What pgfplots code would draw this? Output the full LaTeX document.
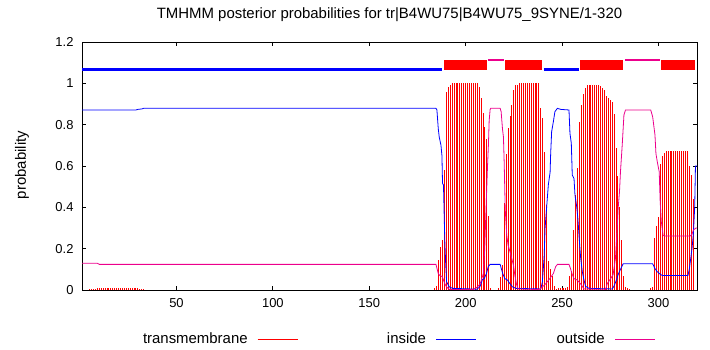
\documentclass[border=0pt]{standalone}
\usepackage{fontspec}
\setmainfont{Liberation Sans}
\usepackage{pgfplots}
\pgfplotsset{compat=1.18}
\pgfplotsset{mylegend/.style={legend image code/.code={\path (0bp,0bp) (74bp,0bp); \draw[##1, line width=0.8bp] (10bp,0bp) -- (50bp,0bp);}}}
\begin{document}
\begin{tikzpicture}
\begin{axis}[
 width=615bp, height=248bp, scale only axis,
 xmin=1, xmax=320, ymin=0, ymax=1.2,
 xtick={50,100,150,200,250,300},
 ytick={0,0.2,0.4,0.6,0.8,1,1.2},
 tick align=inside,
 major tick length=4bp,
 axis line style={line width=0.8bp},
 every tick/.style={black, line width=0.8bp},
 /pgf/number format/assume math mode=true,
 ticklabel style={font=\fontsize{13}{15}\selectfont},
 xticklabel style={yshift=-5bp},
 yticklabel style={xshift=-5bp},
 title={TMHMM posterior probabilities for tr|B4WU75|B4WU75\_9SYNE/1-320},
 title style={font=\fontsize{15}{18}\selectfont, at={(axis description cs:0.5,1)}, anchor=base, yshift=18bp},
 ylabel={probability},
 ylabel style={font=\fontsize{15}{18}\selectfont, at={(axis description cs:-0.0976,0.504)}, anchor=center},
 legend columns=3,
 legend plot pos=right,
 legend cell align=left,
 legend style={draw=none, fill=none, inner sep=0pt, outer sep=0pt,
   at={(axis description cs:0.0992,-0.1976)}, anchor=west,
   font=\fontsize{15}{18}\selectfont,
   nodes={text width=104bp, align=right, inner xsep=0pt}},
]
% topology
\addplot[blue, line width=3bp, forget plot] coordinates {(1,1.067) (187.9,1.067)};
\addplot[blue, line width=3bp, forget plot] coordinates {(240.6,1.067) (258.8,1.067)};
\addplot[magenta, line width=2bp, forget plot] coordinates {(211.7,1.112) (220,1.112)};
\addplot[magenta, line width=2bp, forget plot] coordinates {(282.6,1.112) (300.7,1.112)};
\addplot[red, line width=9.5bp, forget plot] coordinates {(188.9,1.0895) (211.2,1.0895)};
\addplot[red, line width=9.5bp, forget plot] coordinates {(220.5,1.0895) (239.6,1.0895)};
\addplot[red, line width=9.5bp, forget plot] coordinates {(259.3,1.0895) (281.5,1.0895)};
\addplot[red, line width=9.5bp, forget plot] coordinates {(301.2,1.0895) (318.8,1.0895)};
% transmembrane
\addplot[red, ycomb, line width=1bp, mylegend] coordinates {
(5,0.005)(6,0.006)(7,0.006)(8,0.007)(9,0.009)(10,0.010)(11,0.011)(12,0.011)(13,0.011)(14,0.011)(15,0.011)(16,0.011)(17,0.011)(18,0.011)(19,0.011)(20,0.011)(21,0.011)(22,0.011)(23,0.011)(24,0.011)(25,0.011)(26,0.011)(27,0.011)(28,0.011)(29,0.010)(30,0.008)(31,0.007)(32,0.006)(33,0.005)
(184,0.01)(185,0.02)(186,0.145)(187,0.21)(188,0.24)(189,0.58)(190,0.956)(191,0.98)(192,0.99)(193,1)(194,1)(195,1)(196,1)(197,1)(198,1)(199,1)(200,1)(201,1)(202,1)(203,1)(204,1)(205,1)(206,1)(207,0.98)(208,0.93)(209,0.855)(210,0.79)(211,0.73)(212,0.36)(213,0.01)
(217,0.01)(218,0.065)(219,0.12)(220,0.42)(221,0.66)(222,0.785)(223,0.84)(224,0.895)(225,0.97)(226,0.99)(227,0.99)(228,1)(229,1)(230,1)(231,1)(232,1)(233,1)(234,1)(235,1)(236,1)(237,1)(238,1)(239,0.88)(240,0.83)(241,0.67)(242,0.41)(243,0.14)(244,0.10)(245,0.07)(246,0.02)(247,0.005)(248,0.008)(249,0.008)(250,0.01)(251,0.012)
(252,0.01)(253,0.015)(254,0.07)(255,0.09)(256,0.29)(257,0.46)(258,0.59)(259,0.815)(260,0.895)(261,0.95)(262,0.976)(263,0.99)(264,0.993)(265,0.993)(266,0.993)(267,0.993)(268,0.993)(269,0.993)(270,0.985)(271,0.976)(272,0.97)(273,0.94)(274,0.93)(275,0.92)(276,0.91)(277,0.85)(278,0.685)(279,0.55)(280,0.40)(281,0.24)(282,0.07)(283,0.015)(284,0.01)(285,0.005)
(296,0.01)(297,0.015)(298,0.25)(299,0.31)(300,0.355)(301,0.61)(302,0.65)(303,0.665)(304,0.672)(305,0.672)(306,0.672)(307,0.672)(308,0.672)(309,0.672)(310,0.672)(311,0.672)(312,0.672)(313,0.672)(314,0.672)(315,0.672)(316,0.60)(317,0.555)(318,0.44)
};
\addlegendentry{transmembrane}
% inside
\addplot[blue, line width=0.8bp, mylegend] coordinates {
(1,0.871)(29,0.871)(30,0.874)(32,0.876)(33,0.879)(184.6,0.879)(185.1,0.871)(185.8,0.78)(186.3,0.74)(187.2,0.70)(187.7,0.65)(188,0.516)(188.5,0.508)(188.9,0.347)(189.2,0.234)(189.6,0.137)(190.1,0.04)(191.5,0.015)(193.2,0.008)(206,0.004)(207.5,0.018)(208.7,0.05)(209.6,0.055)(210.8,0.08)(211.7,0.113)(212.7,0.124)(217.9,0.124)(218.5,0.103)(219.3,0.078)(220.3,0.055)(221.7,0.048)(223,0.03)(224.3,0.015)(226,0.008)(239,0.005)(239.8,0.04)(240.7,0.16)(241.2,0.30)(242,0.40)(242.9,0.51)(243.8,0.57)(244.1,0.66)(244.6,0.766)(245.5,0.815)(246.3,0.863)(247.6,0.879)(249.3,0.874)(253.6,0.871)(254.1,0.758)(254.8,0.71)(255.3,0.556)(256.2,0.54)(256.7,0.46)(257.6,0.403)(258.2,0.347)(258.9,0.25)(259.6,0.16)(260.5,0.089)(261.4,0.048)(262.2,0.018)(263.9,0.008)(276,0.005)(276.9,0.018)(278.3,0.05)(279.1,0.075)(280.3,0.1)(281.7,0.127)(297,0.127)(298.1,0.105)(299.3,0.089)(301,0.076)(302,0.07)(315.3,0.07)(316,0.1)(316.7,0.15)(317.4,0.2)(318.1,0.27)(318.8,0.4)(319.2,0.6)(320,0.6)
};
\addlegendentry{inside}
% outside
\addplot[magenta, line width=0.8bp, mylegend] coordinates {
(1,0.129)(9,0.129)(10,0.124)(184.6,0.124)(185.1,0.105)(185.8,0.08)(186.6,0.07)(187.9,0.065)(188.5,0.048)(189.2,0.03)(190.1,0.015)(191.5,0.003)(203.5,0.002)(204.4,0.005)(206.1,0.015)(207.5,0.03)(208.2,0.05)(209.2,0.08)(209.9,0.2)(210.4,0.347)(211,0.508)(211.3,0.589)(211.8,0.70)(212.2,0.82)(212.7,0.874)(213,0.879)(217.9,0.879)(218.4,0.863)(219.1,0.78)(219.6,0.74)(220,0.613)(220.5,0.395)(221.3,0.266)(222,0.218)(223,0.185)(223.7,0.16)(224.8,0.12)(225.5,0.073)(226.3,0.03)(227.2,0.005)(238,0.002)(239.8,0.015)(241.5,0.03)(243.2,0.05)(244.4,0.065)(245.5,0.08)(246.7,0.113)(247.6,0.124)(253.6,0.124)(254.5,0.1)(255.3,0.075)(256.2,0.055)(257.9,0.048)(259.6,0.03)(261.4,0.005)(272.6,0.003)(273.4,0.03)(275.2,0.055)(276.5,0.075)(277.7,0.153)(278.6,0.30)(279.1,0.395)(279.8,0.476)(280.3,0.572)(281.2,0.70)(282.1,0.847)(282.9,0.871)(296,0.871)(297,0.838)(298.2,0.75)(298.7,0.66)(299.4,0.62)(300.4,0.572)(300.9,0.427)(301.5,0.33)(302.4,0.266)(303,0.261)(316.5,0.261)(317.4,0.27)(318.1,0.29)(319.5,0.3)(320,0.3)
};
\addlegendentry{outside}
\end{axis}
\path ([xshift=-82bp,yshift=-60bp]current axis.south west) rectangle ([xshift=13bp,yshift=42bp]current axis.north east);
\end{tikzpicture}
\end{document}
